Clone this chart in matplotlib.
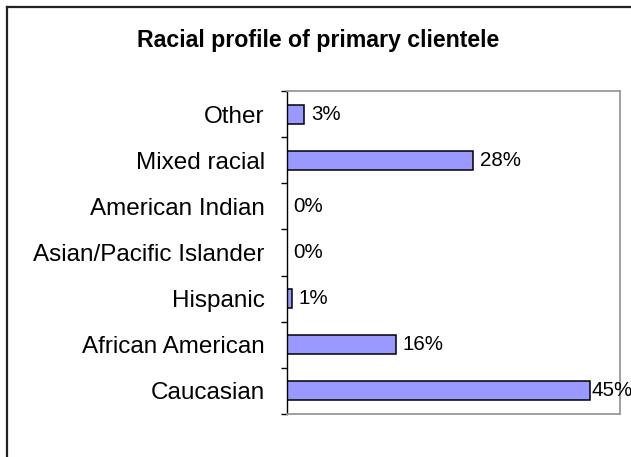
import numpy as np
import matplotlib
matplotlib.use("Agg")
import matplotlib.pyplot as plt
from matplotlib.lines import Line2D

# data, bottom to top
categories = ["Caucasian", "African American", "Hispanic",
              "Asian/Pacific Islander", "American Indian", "Mixed racial", "Other"]
values = [0.455, 0.163, 0.008, 0.0, 0.0, 0.28, 0.026]
value_labels = ["45%", "16%", "1%", "0%", "0%", "28%", "3%"]

plt.rcParams['font.family'] = ['Liberation Sans', 'DejaVu Sans']

fig = plt.figure(figsize=(6.31, 4.57), dpi=100)
ax = fig.add_axes([287 / 631, 43 / 457, 333 / 631, 323 / 457])

y = np.arange(len(categories))
ax.barh(y, values, height=0.41, color="#9999FF", edgecolor="black", linewidth=1.1)

ax.set_xlim(0, 0.5)
ax.set_ylim(-0.5, len(categories) - 0.5)

# value labels (last one squeezed against the bar, as in the original)
offsets = [1, 7, 6, 6, 6, 7, 7]
for yi, v, lab, off in zip(y, values, value_labels, offsets):
    ax.annotate(lab, xy=(v, yi), xytext=(off * 0.72, 0), textcoords="offset points",
                ha="left", va="center", fontsize=14.8, color="black",
                annotation_clip=False)

ax.set_xticks([])
ax.set_yticks(y)
ax.set_yticklabels(categories, fontsize=17.5)
ax.tick_params(axis="y", which="major", length=0, pad=16)
ax.set_yticks(np.arange(len(categories) + 1) - 0.5, minor=True)
ax.tick_params(axis="y", which="minor", length=4, width=1, direction="out", color="black")

for side in ["top", "right", "bottom"]:
    ax.spines[side].set_color("#999999")
    ax.spines[side].set_linewidth(1.3)
ax.spines["left"].set_color("black")
ax.spines["left"].set_linewidth(1)

fig.text(318 / 631, 1 - 41 / 457, "Racial profile of primary clientele",
         ha="center", va="center", fontsize=16.7, fontweight="bold")

# outer chart border (left and top edges visible)
fig.add_artist(Line2D([6.5 / 631, 6.5 / 631], [0, 1 - 7 / 457], transform=fig.transFigure,
                      color="#222222", linewidth=1.6))
fig.add_artist(Line2D([6.5 / 631, 1], [1 - 7 / 457, 1 - 7 / 457], transform=fig.transFigure,
                      color="#222222", linewidth=1.6))

plt.savefig("out.png", dpi=100)
